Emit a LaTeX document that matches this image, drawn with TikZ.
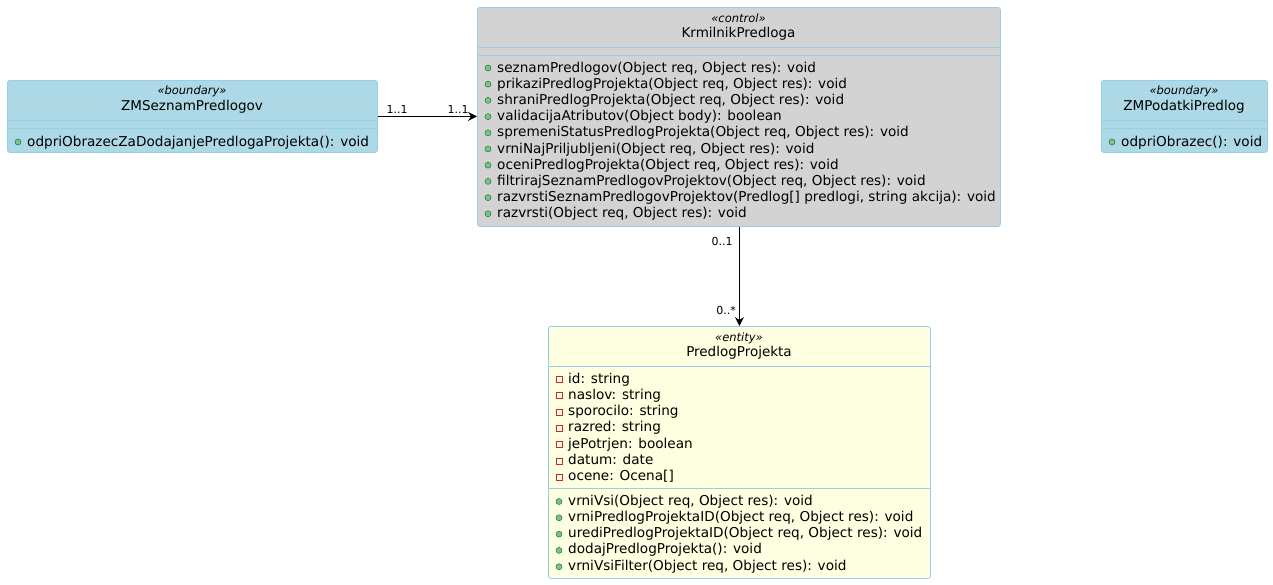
\documentclass[tikz,border=0pt]{standalone}
\usepackage{fontspec}
\setmainfont{DejaVu Sans}
\usetikzlibrary{arrows.meta}
\definecolor{bndfill}{HTML}{ADD8E6}
\definecolor{ctlfill}{HTML}{D3D3D3}
\definecolor{entfill}{HTML}{FEFEE0}
\definecolor{edgeblue}{HTML}{94CFE8}
\definecolor{pubfill}{HTML}{84BE84}
\definecolor{publine}{HTML}{038048}
\definecolor{privline}{HTML}{C82930}
\tikzset{
  x=1pt, y=-1pt,
  classbox/.style={draw=edgeblue, line width=0.8pt, rounded corners=2.5pt, inner sep=0, anchor=north west},
  sepline/.style={draw=edgeblue, line width=0.8pt},
  stereo/.style={font=\fontsize{11.5}{13}\selectfont\itshape, inner sep=0, anchor=center},
  cname/.style={font=\fontsize{13.5}{15}\selectfont, inner sep=0, anchor=center},
  member/.style={font=\fontsize{13.6}{15}\selectfont, inner sep=0, anchor=base west},
  pubicon/.style={circle, fill=pubfill, draw=publine, line width=0.5pt, inner sep=0, minimum size=6pt},
  privicon/.style={rectangle, draw=privline, line width=0.8pt, inner sep=0, minimum size=6pt},
  mult/.style={font=\fontsize{11}{13}\selectfont, inner sep=0, anchor=center},
  assoc/.style={draw=black, line width=1pt, -{Stealth[length=9pt, width=9pt, inset=3pt]}}
}
\begin{document}
\begin{tikzpicture}
\useasboundingbox (0,0) rectangle (1273,584);
% ZMSeznamPredlogov
\node[classbox, fill=bndfill, minimum width=370, minimum height=72] (zms) at (7,80) {};
\node[stereo] (zmsS) at (192,91) {«boundary»};
\node[cname] (zmsN) at (192,107) {ZMSeznamPredlogov};
\draw[sepline] (7,120) -- (377,120);
\draw[sepline] (7,128) -- (377,128);
\node[pubicon] (zmsI1) at (18,142) {};
\node[member] (zmsM1) at (27,146) {odpriObrazecZaDodajanjePredlogaProjekta(): void};
% KrmilnikPredloga
\node[classbox, fill=ctlfill, minimum width=523, minimum height=219] (krm) at (477,7) {};
\node[stereo] (krmS) at (738.5,18) {«control»};
\node[cname] (krmN) at (738.5,34) {KrmilnikPredloga};
\draw[sepline] (477,47) -- (1000,47);
\draw[sepline] (477,55) -- (1000,55);
\foreach \t [count=\i] in {%
  {seznamPredlogov(Object req, Object res): void},
  {prikaziPredlogProjekta(Object req, Object res): void},
  {shraniPredlogProjekta(Object req, Object res): void},
  {validacijaAtributov(Object body): boolean},
  {spremeniStatusPredlogProjekta(Object req, Object res): void},
  {vrniNajPriljubljeni(Object req, Object res): void},
  {oceniPredlogProjekta(Object req, Object res): void},
  {filtrirajSeznamPredlogovProjektov(Object req, Object res): void},
  {razvrstiSeznamPredlogovProjektov(Predlog[] predlogi, string akcija): void},
  {razvrsti(Object req, Object res): void}}{
  \node[pubicon] (krmI\i) at (488,{68+16.2*(\i-1)}) {};
  \node[member] (krmM\i) at (497,{72+16.2*(\i-1)}) {\t};
}
% ZMPodatkiPredlog
\node[classbox, fill=bndfill, minimum width=166, minimum height=72] (zmp) at (1101,80) {};
\node[stereo] (zmpS) at (1184,91) {«boundary»};
\node[cname] (zmpN) at (1184,107) {ZMPodatkiPredlog};
\draw[sepline] (1101,120) -- (1267,120);
\draw[sepline] (1101,128) -- (1267,128);
\node[pubicon] (zmpI1) at (1112,142) {};
\node[member] (zmpM1) at (1121,146) {odpriObrazec(): void};
% PredlogProjekta
\node[classbox, fill=entfill, minimum width=382, minimum height=252] (pp) at (548,326) {};
\node[stereo] (ppS) at (739,338) {«entity»};
\node[cname] (ppN) at (739,353) {PredlogProjekta};
\draw[sepline] (548,366) -- (930,366);
\foreach \t [count=\i] in {%
  {id: string},{naslov: string},{sporocilo: string},{razred: string},
  {jePotrjen: boolean},{datum: date},{ocene: Ocena[]}}{
  \node[privicon] (ppA\i) at (559,{379.5+16.3*(\i-1)}) {};
  \node[member] (ppT\i) at (568,{383+16.3*(\i-1)}) {\t};
}
\draw[sepline] (548,488) -- (930,488);
\foreach \t [count=\i] in {%
  {vrniVsi(Object req, Object res): void},
  {vrniPredlogProjektaID(Object req, Object res): void},
  {urediPredlogProjektaID(Object req, Object res): void},
  {dodajPredlogProjekta(): void},
  {vrniVsiFilter(Object req, Object res): void}}{
  \node[pubicon] (ppI\i) at (559,{501.5+16.3*(\i-1)}) {};
  \node[member] (ppM\i) at (568,{505+16.3*(\i-1)}) {\t};
}
% associations
\draw[assoc] (zms.east) -- (zms.east -| krm.west);
\node[mult] (m1) at (397,109) {1..1};
\node[mult] (m2) at (458,109) {1..1};
\draw[assoc] (krm.south -| pp.north) -- (pp.north);
\node[mult] (m3) at (722,241) {0..1};
\node[mult] (m4) at (726,310) {0..*};
\end{tikzpicture}
\end{document}
